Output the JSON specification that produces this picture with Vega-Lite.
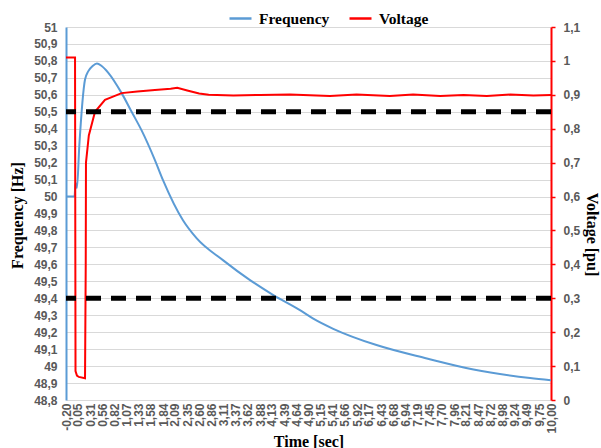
{
  "$schema": "https://vega.github.io/schema/vega-lite/v6.json",
  "width": 485,
  "height": 373,
  "autosize": {"type": "none"},
  "padding": {"left": 66, "top": 27, "right": 50, "bottom": 48},
  "background": "white",
  "config": {
    "view": {"stroke": null},
    "axis": {
      "labelFont": "Liberation Sans",
      "labelFontSize": 12,
      "labelFontWeight": "bold",
      "labelColor": "#595959",
      "labelOverlap": false,
      "titleFont": "Liberation Serif",
      "titleFontSize": 16,
      "titleFontWeight": "bold",
      "titleColor": "black"
    },
    "axisX": {"labelOverlap": false, "labelSeparation": 0},
    "axisY": {"labelOverlap": false}
  },
  "datasets": {
    "freq": [
      {"t": -0.2, "freq": 50.0},
      {"t": -0.02, "freq": 50.0},
      {"t": 0.0, "freq": 50.08},
      {"t": 0.03, "freq": 50.05},
      {"t": 0.08, "freq": 50.3},
      {"t": 0.2, "freq": 50.69},
      {"t": 0.27, "freq": 50.74},
      {"t": 0.36, "freq": 50.77},
      {"t": 0.45, "freq": 50.785},
      {"t": 0.55, "freq": 50.77},
      {"t": 0.69, "freq": 50.73},
      {"t": 0.97, "freq": 50.61},
      {"t": 1.18, "freq": 50.5},
      {"t": 1.39, "freq": 50.39},
      {"t": 1.67, "freq": 50.215},
      {"t": 1.84, "freq": 50.097},
      {"t": 2.26, "freq": 49.86},
      {"t": 2.55, "freq": 49.753},
      {"t": 3.1, "freq": 49.625},
      {"t": 3.67, "freq": 49.507},
      {"t": 4.16, "freq": 49.419},
      {"t": 4.72, "freq": 49.33},
      {"t": 5.0, "freq": 49.28},
      {"t": 5.42, "freq": 49.22},
      {"t": 6.33, "freq": 49.124},
      {"t": 7.39, "freq": 49.045},
      {"t": 8.37, "freq": 48.98},
      {"t": 9.56, "freq": 48.93},
      {"t": 10.0, "freq": 48.917}
    ],
    "volt": [
      {"t": -0.2, "volt": 1.01},
      {"t": -0.01, "volt": 1.01},
      {"t": 0.0, "volt": 0.085},
      {"t": 0.03, "volt": 0.072},
      {"t": 0.07, "volt": 0.068},
      {"t": 0.2, "volt": 0.064},
      {"t": 0.215, "volt": 0.4},
      {"t": 0.22, "volt": 0.7},
      {"t": 0.25, "volt": 0.74},
      {"t": 0.28, "volt": 0.78},
      {"t": 0.41, "volt": 0.85},
      {"t": 0.62, "volt": 0.885},
      {"t": 0.97, "volt": 0.905},
      {"t": 1.3, "volt": 0.91},
      {"t": 1.67, "volt": 0.914},
      {"t": 2.0, "volt": 0.918},
      {"t": 2.14, "volt": 0.921},
      {"t": 2.35, "volt": 0.913},
      {"t": 2.6, "volt": 0.904},
      {"t": 2.8, "volt": 0.9},
      {"t": 3.32, "volt": 0.898},
      {"t": 3.88, "volt": 0.8997},
      {"t": 4.51, "volt": 0.9006},
      {"t": 5.35, "volt": 0.8968},
      {"t": 5.91, "volt": 0.9006},
      {"t": 6.61, "volt": 0.8968},
      {"t": 7.1, "volt": 0.9006},
      {"t": 7.67, "volt": 0.8968},
      {"t": 8.16, "volt": 0.8997},
      {"t": 8.65, "volt": 0.8968},
      {"t": 9.14, "volt": 0.9006},
      {"t": 9.63, "volt": 0.898},
      {"t": 10.0, "volt": 0.8997}
    ],
    "limits": [
      {"volt": 0.85},
      {"volt": 0.3}
    ]
  },
  "encoding": {
    "x": {
      "field": "t",
      "type": "quantitative",
      "scale": {"domain": [-0.2, 10], "nice": false, "zero": false},
      "axis": {
        "values": [-0.2, 0.05, 0.31, 0.56, 0.82, 1.07, 1.33, 1.58, 1.84, 2.09, 2.35, 2.6, 2.86, 3.11, 3.37, 3.62, 3.88, 4.13, 4.39, 4.64, 4.9, 5.15, 5.41, 5.66, 5.92, 6.17, 6.43, 6.68, 6.94, 7.19, 7.45, 7.7, 7.96, 8.21, 8.47, 8.72, 8.98, 9.24, 9.49, 9.75, 10.0],
        "labelExpr": "replace(replace(format(datum.value, '.2f'), '.', ','), '\u2212', '-')",
        "labelAngle": -90,
        "labelPadding": 3,
        "labelOverlap": false,
        "domain": false,
        "ticks": false,
        "grid": false,
        "title": "Time [sec]",
        "titleY": 41,
        "titleBaseline": "middle"
      }
    }
  },
  "layer": [
    {
      "data": {"name": "freq"},
      "mark": {"type": "line", "strokeWidth": 2, "interpolate": "monotone"},
      "encoding": {
        "y": {
          "field": "freq",
          "type": "quantitative",
          "scale": {"domain": [48.8, 51], "nice": false, "zero": false},
          "axis": {
            "orient": "left",
            "values": [48.8, 48.9, 49, 49.1, 49.2, 49.3, 49.4, 49.5, 49.6, 49.7, 49.8, 49.9, 50, 50.1, 50.2, 50.3, 50.4, 50.5, 50.6, 50.7, 50.8, 50.9, 51],
            "labelExpr": "replace(format(datum.value, '.1~f'), '.', ',')",
            "labelOverlap": false,
            "labelPadding": 9,
            "domainColor": "#5B9BD5",
            "domainWidth": 2,
            "ticks": false,
            "grid": true,
            "gridColor": "#D9D9D9",
            "gridWidth": 1,
            "title": "Frequency [Hz]",
            "titleAngle": -90,
            "titleX": -49,
            "titleY": 188,
            "titleAlign": "center",
            "titleBaseline": "middle"
          }
        },
        "color": {
          "datum": "Frequency",
          "scale": {"domain": ["Frequency", "Voltage"], "range": ["#5B9BD5", "#FF0000"]},
          "legend": {
            "orient": "none",
            "legendX": 162,
            "legendY": -21,
            "direction": "horizontal",
            "title": null,
            "symbolType": "stroke",
            "symbolSize": 484,
            "symbolStrokeWidth": 2.5,
            "labelFont": "Liberation Serif",
            "labelFontSize": 15.5,
            "labelFontWeight": "bold",
            "labelColor": "black",
            "labelOffset": 6,
            "columnPadding": 14,
            "padding": 0
          }
        }
      }
    },
    {
      "encoding": {
        "y": {
          "field": "volt",
          "type": "quantitative",
          "scale": {"domain": [0, 1.1], "nice": false},
          "axis": {
            "orient": "right",
            "values": [0, 0.1, 0.2, 0.3, 0.4, 0.5, 0.6, 0.7, 0.8, 0.9, 1, 1.1],
            "labelExpr": "replace(format(datum.value, '.1~f'), '.', ',')",
            "labelOverlap": false,
            "labelPadding": 8,
            "domainColor": "#FF0000",
            "domainWidth": 2,
            "ticks": true,
            "tickColor": "#FF0000",
            "tickSize": 4,
            "tickWidth": 1.5,
            "grid": false,
            "title": "Voltage [pu]",
            "titleAngle": 90,
            "titleX": 40,
            "titleY": 207,
            "titleAlign": "center",
            "titleBaseline": "middle"
          }
        }
      },
      "layer": [
        {
          "data": {"name": "volt"},
          "mark": {"type": "line", "strokeWidth": 2},
          "encoding": {
            "color": {"datum": "Voltage"}
          }
        },
        {
          "data": {"name": "limits"},
          "mark": {"type": "rule", "strokeDash": [15, 10], "strokeWidth": 5, "color": "black"},
          "encoding": {"x": null}
        }
      ]
    }
  ],
  "resolve": {"scale": {"y": "independent"}}
}
